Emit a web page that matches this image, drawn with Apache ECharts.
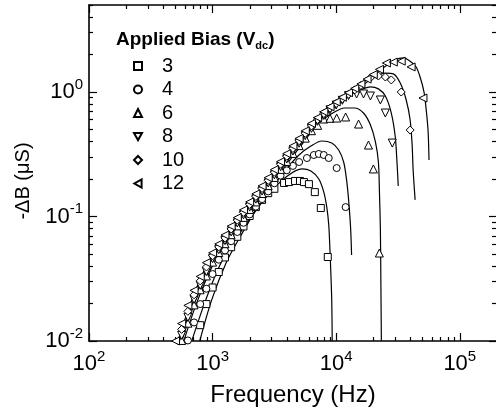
<!DOCTYPE html>
<html>
<head>
<meta charset="utf-8">
<script src="https://cdn.jsdelivr.net/npm/echarts@6/dist/echarts.min.js"></script>
<style>
  html, body { margin: 0; padding: 0; background: #fff; }
  #chart { width: 496px; height: 413px; }
</style>
</head>
<body>
<div id="chart"></div>
<script>
// -dB vs frequency, one series per applied bias
var FONT = '"Liberation Sans", Arial, sans-serif';

var biasNames = ['3', '4', '6', '8', '10', '12'];

// tick positions
var xMajor = [1e2, 1e3, 1e4, 1e5];
var xMinor = [200, 300, 400, 500, 600, 700, 800, 900,
  2000, 3000, 4000, 5000, 6000, 7000, 8000, 9000,
  20000, 30000, 40000, 50000, 60000, 70000, 80000, 90000, 200000];
var yMajor = [0.01, 0.1, 1];
var yMinor = [0.02, 0.03, 0.04, 0.05, 0.06, 0.07, 0.08, 0.09,
  0.2, 0.3, 0.4, 0.5, 0.6, 0.7, 0.8, 0.9, 2, 3, 4, 5];

// measured points [Hz, uS]
var d3 = [[794, 0.0134], [891, 0.0198], [1000, 0.0269], [1122, 0.0358], [1259, 0.0469],
  [1413, 0.0567], [1585, 0.0687], [1778, 0.0832], [1995, 0.101], [2239, 0.119],
  [2512, 0.136], [2818, 0.154], [3162, 0.167], [3787, 0.186], [4152, 0.189],
  [4645, 0.193], [5093, 0.193], [5486, 0.189], [6015, 0.182], [6717, 0.157],
  [7509, 0.117], [8551, 0.0473]];
var d4 = [[631, 0.0101], [708, 0.0141], [794, 0.0198], [891, 0.0263], [1000, 0.0345],
  [1122, 0.0450], [1259, 0.0534], [1413, 0.0633], [1585, 0.0751], [1778, 0.0890],
  [1995, 0.104], [2239, 0.120], [2512, 0.138], [2818, 0.159], [3162, 0.185],
  [3548, 0.213], [3981, 0.235], [4467, 0.255], [5012, 0.274], [5797, 0.295],
  [6597, 0.312], [7231, 0.318], [7937, 0.312], [8705, 0.295], [10090, 0.245],
  [11920, 0.119]];
var d6 = [[562, 0.0101], [631, 0.0139], [708, 0.0195], [794, 0.0258], [891, 0.0333],
  [1000, 0.0430], [1122, 0.0513], [1259, 0.0605], [1413, 0.0714], [1585, 0.0841],
  [1778, 0.0984], [1995, 0.114], [2239, 0.131], [2512, 0.153], [2818, 0.177],
  [3162, 0.206], [3548, 0.239], [3981, 0.277], [4467, 0.321], [5012, 0.371],
  [5623, 0.426], [6310, 0.489], [7079, 0.540], [7943, 0.607], [8913, 0.615],
  [10090, 0.618], [11920, 0.630], [15170, 0.553], [18240, 0.375], [20000, 0.241],
  [22350, 0.0509]];
var d8 = [[562, 0.0111], [631, 0.0155], [708, 0.0216], [794, 0.0280], [891, 0.0361],
  [1000, 0.0459], [1122, 0.0541], [1259, 0.0640], [1413, 0.0752], [1585, 0.0887],
  [1778, 0.103], [1995, 0.119], [2239, 0.138], [2512, 0.160], [2818, 0.186],
  [3162, 0.216], [3548, 0.251], [3981, 0.290], [4467, 0.336], [5012, 0.388],
  [5623, 0.446], [6310, 0.511], [7079, 0.582], [7943, 0.648], [8913, 0.719],
  [10000, 0.786], [11220, 0.858], [12590, 0.936], [14620, 0.964], [16640, 0.964],
  [18920, 0.929], [22770, 0.863], [24990, 0.678], [28440, 0.389]];
var d10 = [[562, 0.0124], [631, 0.0173], [708, 0.0235], [794, 0.0304], [891, 0.0393],
  [1000, 0.0484], [1122, 0.0570], [1259, 0.0673], [1413, 0.0794], [1585, 0.0935],
  [1778, 0.108], [1995, 0.125], [2239, 0.145], [2512, 0.168], [2818, 0.195],
  [3162, 0.227], [3548, 0.263], [3981, 0.305], [4467, 0.352], [5012, 0.406],
  [5623, 0.466], [6310, 0.534], [7079, 0.601], [7943, 0.671], [8913, 0.741],
  [10000, 0.809], [11220, 0.882], [12590, 0.960], [14130, 1.04], [15850, 1.13],
  [18920, 1.30], [21950, 1.345], [24990, 1.32], [27920, 1.25], [33580, 1.00],
  [39650, 0.495]];
var d12 = [[501, 0.0100], [562, 0.0138], [631, 0.0193], [708, 0.0255], [794, 0.0330],
  [891, 0.0426], [1000, 0.0511], [1122, 0.0601], [1259, 0.0710], [1413, 0.0837],
  [1585, 0.0980], [1778, 0.113], [1995, 0.131], [2239, 0.152], [2512, 0.176],
  [2818, 0.205], [3162, 0.238], [3548, 0.276], [3981, 0.320], [4467, 0.369],
  [5012, 0.424], [5623, 0.488], [6310, 0.559], [7079, 0.623], [7943, 0.694],
  [8913, 0.762], [10000, 0.832], [11220, 0.908], [12590, 0.987], [14130, 1.07],
  [15850, 1.16], [17780, 1.27], [19950, 1.38], [22390, 1.52], [25470, 1.71],
  [28970, 1.74], [33570, 1.77], [40370, 1.59], [50340, 0.895]];

// fitted curves
var fit3 = [[787, 0.0100], [982, 0.0213], [1295, 0.0431], [1648, 0.0672], [2256, 0.113],
  [3034, 0.163], [4003, 0.211], [5284, 0.241], [6241, 0.232], [7236, 0.200],
  [7937, 0.157], [8390, 0.119], [8706, 0.0855], [8868, 0.059], [9033, 0.0372],
  [9203, 0.0213], [9288, 0.0100]];
var fit4 = [[678, 0.0100], [879, 0.0213], [1181, 0.0431], [1910, 0.0903], [2568, 0.136],
  [3787, 0.228], [4999, 0.312], [6241, 0.368], [7648, 0.404], [9203, 0.389],
  [10470, 0.342], [11490, 0.274], [12140, 0.196], [12600, 0.136], [13080, 0.0808],
  [13320, 0.0491]];
var fit6 = [[585, 0.0100], [758, 0.0213], [1057, 0.0448], [1774, 0.0937], [2385, 0.136],
  [3650, 0.236], [5092, 0.362], [7104, 0.553], [9373, 0.678], [11700, 0.744],
  [14080, 0.744], [16630, 0.678], [18930, 0.543], [20770, 0.397], [21950, 0.274],
  [22360, 0.163], [22780, 0.078], [22980, 0.0309], [23200, 0.0100]];
var fit8 = [[564, 0.0100], [730, 0.0213], [1019, 0.0448], [1710, 0.0937], [2298, 0.136],
  [3518, 0.236], [4907, 0.362], [6974, 0.564], [9033, 0.717], [12600, 0.929],
  [15730, 1.04], [18930, 1.10], [21950, 1.06], [24990, 0.929], [27910, 0.678],
  [30060, 0.435], [31190, 0.250], [31770, 0.176]];
var fit10 = [[543, 0.0100], [704, 0.0213], [982, 0.0448], [1648, 0.0937], [2215, 0.136],
  [3390, 0.236], [4729, 0.362], [6720, 0.564], [8706, 0.717], [11920, 0.912],
  [15730, 1.10], [20010, 1.30], [24990, 1.42], [28960, 1.40], [32980, 1.18],
  [36850, 0.863], [39660, 0.596], [41160, 0.375], [41930, 0.236], [43510, 0.136]];
var fit12 = [[524, 0.0100], [678, 0.0213], [946, 0.0448], [1588, 0.0937], [2135, 0.136],
  [3267, 0.236], [4557, 0.362], [6475, 0.564], [8390, 0.717], [11490, 0.912],
  [16630, 1.20], [23200, 1.53], [30060, 1.81], [34850, 1.88], [39660, 1.77],
  [44330, 1.59], [47730, 1.32], [51370, 1.00], [53310, 0.744], [55340, 0.495],
  [56370, 0.284]];

var measured = [d3, d4, d6, d8, d10, d12];
var fits = [fit3, fit4, fit6, fit8, fit10, fit12];
// open markers: square, circle, up / down / left triangle, diamond
var symbols = ['rect', 'circle', 'triangle', 'path://M0,0 L10,0 L5,9 Z', 'diamond',
  'path://M9,0 L9,10 L0,5 Z'];
var symSizes = [7, 7, 8, 8, 8, 8];

var chartDom = document.getElementById('chart');
var chart = echarts.init(chartDom, null, { renderer: 'canvas' });

function powLabel(v) {
  var e = Math.round(Math.log10(v));
  return '{b|10}{s|' + e + '}';
}

var labelRich = {
  b: { fontFamily: FONT, fontSize: 22, lineHeight: 30, color: '#000' },
  s: { fontFamily: FONT, fontSize: 15, lineHeight: 15, color: '#000', verticalAlign: 'top' }
};

var black = { color: '#000', width: 1.6 };

// one axis = line + ticks; minor ticks go on a twin axis with no line
function xAx(pos, ticks, len, main) {
  return {
    type: 'log', logBase: 10, min: 100, max: 2e5, position: pos, gridIndex: 0,
    axisLine: { show: main, onZero: false, lineStyle: black },
    axisTick: { show: true, inside: true, length: len, customValues: ticks,
      lineStyle: { color: '#000', width: 1.2 } },
    axisLabel: { show: false },
    splitLine: { show: false }, minorTick: { show: false }, minorSplitLine: { show: false }
  };
}
function yAx(pos, ticks, len, main) {
  return {
    type: 'log', logBase: 10, min: 0.01, max: 5, position: pos, gridIndex: 0,
    axisLine: { show: main, onZero: false, lineStyle: black },
    axisTick: { show: true, inside: true, length: len, customValues: ticks,
      lineStyle: { color: '#000', width: 1.2 } },
    axisLabel: { show: false },
    splitLine: { show: false }, minorTick: { show: false }, minorSplitLine: { show: false }
  };
}

var xBottom = xAx('bottom', xMajor, 8, true);
xBottom.axisLabel = { show: true, customValues: xMajor, margin: 8, formatter: powLabel, rich: labelRich };
xBottom.name = 'Frequency (Hz)';
xBottom.nameLocation = 'middle';
xBottom.nameGap = 42;
xBottom.nameTextStyle = { fontFamily: FONT, fontSize: 24, color: '#000' };

var yLeft = yAx('left', yMajor, 8, true);
yLeft.axisLabel = { show: true, customValues: yMajor, margin: 6, formatter: powLabel, rich: labelRich };
yLeft.name = '-\u0394B (\u03bcS)';
yLeft.nameLocation = 'middle';
yLeft.nameGap = 56;
yLeft.nameRotate = 90;
yLeft.nameTextStyle = { fontFamily: FONT, fontSize: 20, color: '#000', padding: [0, 16, 0, 0] };

var series = [];
fits.forEach(function (f, i) {
  series.push({
    name: 'fit' + biasNames[i], type: 'line', data: f,
    xAxisIndex: 0, yAxisIndex: 0,
    showSymbol: false, symbol: 'none', smooth: 0.3,
    lineStyle: { color: '#000', width: 1.2 }, z: 2
  });
});
measured.forEach(function (d, i) {
  series.push({
    name: biasNames[i], type: 'scatter', data: d,
    xAxisIndex: 0, yAxisIndex: 0,
    symbol: symbols[i], symbolSize: symSizes[i],
    itemStyle: { color: '#fff', borderColor: '#000', borderWidth: 1, opacity: 1 },
    z: 3
  });
});

var option = {
  backgroundColor: '#fff',
  animation: false,
  grid: { left: 89, width: 408, top: 5, bottom: 72, containLabel: false, outerBoundsMode: 'none' },
  title: {
    left: 111, top: 24,
    text: '{t|Applied Bias (V}{s|dc}{t|)}',
    textStyle: {
      rich: {
        t: { fontFamily: FONT, fontSize: 19, fontWeight: 'bold', color: '#000', lineHeight: 22 },
        s: { fontFamily: FONT, fontSize: 11, fontWeight: 'bold', color: '#000', verticalAlign: 'bottom', lineHeight: 11 }
      }
    }
  },
  legend: {
    data: biasNames,
    orient: 'vertical', left: 128, top: 51,
    itemWidth: 8, itemHeight: 8, itemGap: 3.5,
    formatter: function (n) { return '{a|' + n + '}'; },
    textStyle: {
      color: '#000',
      rich: { a: { fontFamily: FONT, fontSize: 20, lineHeight: 20, color: '#000', padding: [0, 0, 0, 15] } }
    }
  },
  xAxis: [xBottom, xAx('bottom', xMinor, 4, false), xAx('top', xMajor, 8, true), xAx('top', xMinor, 4, false)],
  // right side: ticks only, its frame line sits just past the picture edge
  yAxis: [yLeft, yAx('left', yMinor, 4, false), yAx('right', yMajor, 8, false), yAx('right', yMinor, 5, false)],
  series: series
};

chart.setOption(option);
</script>
</body>
</html>
